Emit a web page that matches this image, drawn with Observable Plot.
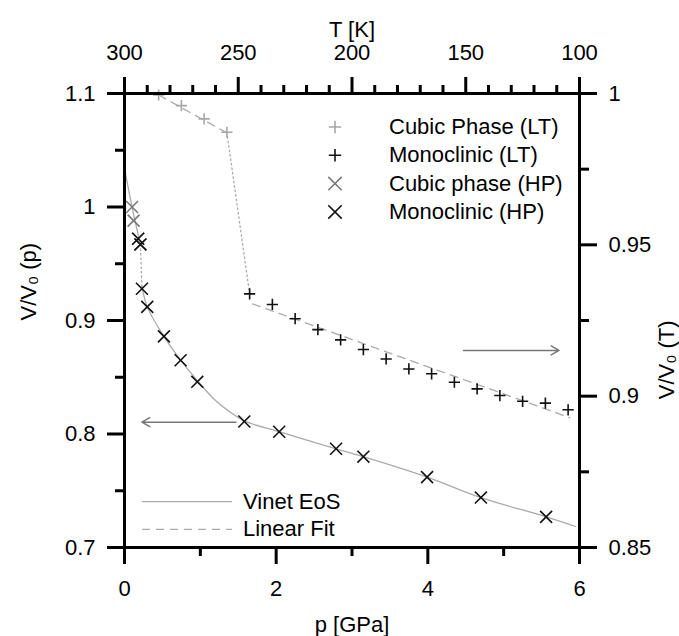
<!DOCTYPE html>
<html><head><meta charset="utf-8">
<script src="https://cdn.jsdelivr.net/npm/d3@7"></script>
<script src="https://cdn.jsdelivr.net/npm/@observablehq/plot@0.6"></script>
<style>
html,body{margin:0;padding:0;background:#fff;}
#chart{width:679px;height:636px;}
</style></head><body><div id="chart"></div>
<script>
// ---------- data ----------
// Low-temperature series (top axis T [K], right axis V/V0 (T))
const cubicLT_T = [285, 275, 265, 255];
const cubicLT_V = [0.9995, 0.9960, 0.9916, 0.9872];
const monoLT_T = [245, 235, 225, 215, 205, 195, 185, 175, 165, 155, 145, 135, 125, 115, 105];
const monoLT_V = [0.9338, 0.9303, 0.9256, 0.9220, 0.9186, 0.9154, 0.9123, 0.9090, 0.9074, 0.9046, 0.9024, 0.9002, 0.8983, 0.8977, 0.8955];
const fitCubicLT_T = [285, 255];
const fitCubicLT_V = [0.9995, 0.9870];
const fitMonoLT_T = [243.7, 104.3];
const fitMonoLT_V = [0.9305, 0.8929];
const transLT_T = [255, 245];
const transLT_V = [0.9872, 0.9338];
const arrowLT_T = [151, 109];
const arrowLT_V = [0.9151, 0.9151];

// High-pressure series (bottom axis p [GPa], left axis V/V0 (p))
const cubicHP_p = [0.10, 0.12, 0.18, 0.21];
const cubicHP_v = [1.000, 0.988, 0.972, 0.967];
const monoHP_p = [0.18, 0.21, 0.23, 0.30, 0.52, 0.74, 0.96, 1.58, 2.04, 2.79, 3.15, 3.99, 4.70, 5.56];
const monoHP_v = [0.972, 0.967, 0.928, 0.912, 0.886, 0.865, 0.846, 0.811, 0.802, 0.787, 0.780, 0.762, 0.744, 0.727];
const vinetCubic_p = [0, 0.10, 0.21];
const vinetCubic_v = [1.034, 1.000, 0.967];
const vinetMono_p = [0.23, 0.30, 0.52, 0.74, 0.96, 1.20, 1.40, 1.58, 2.04, 2.79, 3.15, 3.99, 4.70, 5.56, 5.95];
const vinetMono_v = [0.930, 0.912, 0.886, 0.865, 0.847, 0.8295, 0.8190, 0.8115, 0.802, 0.787, 0.780, 0.762, 0.744, 0.727, 0.7185];
const transHP_p = [0.21, 0.23];
const transHP_v = [0.967, 0.928];
const arrowHP_p = [1.47, 0.23];
const arrowHP_v = [0.8104, 0.8104];

// ticks
const bottomTicks = [0, 2, 4, 6];
const bottomTickLabels = ["0", "2", "4", "6"];
const bottomMinor = [1, 3, 5];
const leftTicks = [0.7, 0.8, 0.9, 1.0, 1.1];
const leftTickLabels = ["0.7", "0.8", "0.9", "1", "1.1"];
const leftMinor = [0.75, 0.85, 0.95, 1.05];
const topTicks = [300, 250, 200, 150, 100];
const topTickLabels = ["300", "250", "200", "150", "100"];
const topMinor = [290, 280, 270, 260, 240, 230, 220, 210, 190, 180, 170, 160, 140, 130, 120, 110];
const rightTicks = [0.85, 0.90, 0.95, 1.00];
const rightTickLabels = ["0.85", "0.9", "0.95", "1"];
const rightMinor = [0.875, 0.925, 0.975];

// text
const xTitle = "p [GPa]";
const topTitle = "T [K]";
const leftTitle = "V/V\u2080 (p)";
const rightTitle = "V/V\u2080 (T)";
const legendTop = [
  {label: "Cubic Phase (LT)", sym: "plus", color: "#a8a8a8"},
  {label: "Monoclinic (LT)", sym: "plus", color: "#111"},
  {label: "Cubic phase (HP)", sym: "times", color: "#7a7a7a"},
  {label: "Monoclinic (HP)", sym: "times", color: "#111"}
];
const legendBottom = [
  {label: "Vinet EoS", dash: null},
  {label: "Linear Fit", dash: "8,6"}
];

// ---------- secondary axes mapped onto the primary scales ----------
const T0 = 300, T1 = 100, VT0 = 0.85, VT1 = 1.0, P0 = 0, P1 = 6, V0 = 0.7, V1 = 1.1;
const pOfT = T => P0 + (T0 - T) * (P1 - P0) / (T0 - T1);
const vOfVT = vt => V0 + (vt - VT0) * (V1 - V0) / (VT1 - VT0);

const zipLT = (Ts, Vs) => Ts.map((T, i) => ({x: pOfT(T), y: vOfVT(Vs[i])}));
const zipHP = (ps, vs) => ps.map((p, i) => ({x: p, y: vs[i]}));

const cubicLT = zipLT(cubicLT_T, cubicLT_V);
const monoLT = zipLT(monoLT_T, monoLT_V);
const fitCubicLT = zipLT(fitCubicLT_T, fitCubicLT_V);
const fitMonoLT = zipLT(fitMonoLT_T, fitMonoLT_V);
const transLT = zipLT(transLT_T, transLT_V);
const arrowLT = [{x1: pOfT(arrowLT_T[0]), y1: vOfVT(arrowLT_V[0]), x2: pOfT(arrowLT_T[1]), y2: vOfVT(arrowLT_V[1])}];
const cubicHP = zipHP(cubicHP_p, cubicHP_v);
const monoHP = zipHP(monoHP_p, monoHP_v);
const vinetCubic = zipHP(vinetCubic_p, vinetCubic_v);
const vinetMono = zipHP(vinetMono_p, vinetMono_v);
const transHP = zipHP(transHP_p, transHP_v);
const arrowHP = [{x1: arrowHP_p[0], y1: arrowHP_v[0], x2: arrowHP_p[1], y2: arrowHP_v[1]}];

const labelFor = (vals, labels) => d => { const i = vals.findIndex(v => Math.abs(v - d) < 1e-9); return i >= 0 ? labels[i] : ""; };
const topPos = topTicks.map(pOfT), topMinorPos = topMinor.map(pOfT);
const rightPos = rightTicks.map(vOfVT), rightMinorPos = rightMinor.map(vOfVT);

const FONT = "'Liberation Sans', Arial, Helvetica, sans-serif";
const FS = 22;
const MAJ = 17, MIN = 9, AW = 3;
const R_PLUS = 3.7, R_TIMES = 5.5;

function legendMark(index, scales, values, dims) {
  const g = d3.create("svg:g").attr("font-family", FONT).attr("font-size", FS)
    .attr("fill", "#000").attr("text-anchor", "start");
  const L = dims.marginLeft, Tp = dims.marginTop, B = dims.height - dims.marginBottom;
  legendTop.forEach((it, i) => {
    const y = Tp + 34 + i * 28.3;
    const size = it.sym === "plus" ? 52 : 119;
    g.append("path")
      .attr("transform", `translate(${L + 211},${y})`)
      .attr("d", d3.symbol(it.sym === "plus" ? d3.symbolPlus : d3.symbolTimes, size)())
      .attr("fill", "none").attr("stroke", it.color).attr("stroke-width", 1.6);
    g.append("text").attr("x", L + 265).attr("y", y).attr("dy", "0.32em").attr("text-anchor", "start").text(it.label);
  });
  legendBottom.forEach((it, i) => {
    const y = B - 45.3 + i * 27.6;
    const ln = g.append("line").attr("x1", L + 18).attr("x2", L + 108).attr("y1", y).attr("y2", y)
      .attr("stroke", "#aaa").attr("stroke-width", 1.3);
    if (it.dash) ln.attr("stroke-dasharray", it.dash);
    g.append("text").attr("x", L + 119).attr("y", y).attr("dy", "0.32em").attr("text-anchor", "start").text(it.label);
  });
  return g.node();
}

const plot = Plot.plot({
  width: 679, height: 636,
  marginLeft: 124, marginRight: 100, marginTop: 93, marginBottom: 89,
  x: {domain: [P0, P1], label: null},
  y: {domain: [V0, V1], label: null},
  style: {fontFamily: FONT, background: "#fff", color: "#000", overflow: "visible"},
  marks: [
    // curves
    Plot.line(vinetCubic, {x: "x", y: "y", stroke: "#aaa", strokeWidth: 1.3, curve: "catmull-rom"}),
    Plot.line(vinetMono, {x: "x", y: "y", stroke: "#aaa", strokeWidth: 1.3, curve: "catmull-rom"}),
    Plot.line(transHP, {x: "x", y: "y", stroke: "#aaa", strokeWidth: 1.3, strokeDasharray: "1.5,3"}),
    Plot.line(transLT, {x: "x", y: "y", stroke: "#aaa", strokeWidth: 1.3, strokeDasharray: "1.5,3"}),
    Plot.line(fitCubicLT, {x: "x", y: "y", stroke: "#aaa", strokeWidth: 1.3, strokeDasharray: "8,6"}),
    Plot.line(fitMonoLT, {x: "x", y: "y", stroke: "#aaa", strokeWidth: 1.3, strokeDasharray: "8,6"}),
    // arrows
    Plot.arrow(arrowHP, {x1: "x1", y1: "y1", x2: "x2", y2: "y2", stroke: "#777", strokeWidth: 1.5, headLength: 9}),
    Plot.arrow(arrowLT, {x1: "x1", y1: "y1", x2: "x2", y2: "y2", stroke: "#777", strokeWidth: 1.5, headLength: 9}),
    // points
    Plot.dot(cubicHP, {x: "x", y: "y", symbol: "times", r: R_TIMES, stroke: "#7a7a7a", strokeWidth: 1.6}),
    Plot.dot(monoHP, {x: "x", y: "y", symbol: "times", r: R_TIMES, stroke: "#111", strokeWidth: 1.6}),
    Plot.dot(cubicLT, {x: "x", y: "y", symbol: "plus", r: R_PLUS, stroke: "#a8a8a8", strokeWidth: 1.6}),
    Plot.dot(monoLT, {x: "x", y: "y", symbol: "plus", r: R_PLUS, stroke: "#111", strokeWidth: 1.6}),
    // axes
    Plot.axisX(bottomTicks, {anchor: "bottom", tickSize: MAJ, tickPadding: 16, strokeWidth: AW, fontSize: FS, tickFormat: labelFor(bottomTicks, bottomTickLabels), label: null}),
    Plot.axisX(bottomMinor, {anchor: "bottom", tickSize: MIN, strokeWidth: AW, tickFormat: () => "", label: null}),
    Plot.axisX(topPos, {anchor: "top", tickSize: MAJ, tickPadding: 17, strokeWidth: AW, fontSize: FS, tickFormat: labelFor(topPos, topTickLabels), label: null}),
    Plot.axisX(topMinorPos, {anchor: "top", tickSize: MIN, strokeWidth: AW, tickFormat: () => "", label: null}),
    Plot.axisY(leftTicks, {anchor: "left", tickSize: MAJ, tickPadding: 12, strokeWidth: AW, fontSize: FS, tickFormat: labelFor(leftTicks, leftTickLabels), label: null}),
    Plot.axisY(leftMinor, {anchor: "left", tickSize: MIN, strokeWidth: AW, tickFormat: () => "", label: null}),
    Plot.axisY(rightPos, {anchor: "right", tickSize: MAJ, tickPadding: 12, strokeWidth: AW, fontSize: FS, tickFormat: labelFor(rightPos, rightTickLabels), label: null}),
    Plot.axisY(rightMinorPos, {anchor: "right", tickSize: MIN, strokeWidth: AW, tickFormat: () => "", label: null}),
    Plot.frame({stroke: "#000", strokeWidth: AW}),
    // axis titles
    Plot.text([xTitle], {text: d => d, frameAnchor: "bottom", dy: 84, lineAnchor: "bottom", fontSize: FS, fill: "#000"}),
    Plot.text([topTitle], {text: d => d, frameAnchor: "top", dy: -57, lineAnchor: "bottom", fontSize: FS, fill: "#000"}),
    Plot.text([leftTitle], {text: d => d, frameAnchor: "left", dx: -89, rotate: -90, lineAnchor: "bottom", fontSize: FS, fill: "#000"}),
    Plot.text([rightTitle], {text: d => d, frameAnchor: "right", dx: 94, rotate: -90, lineAnchor: "bottom", fontSize: FS, fill: "#000"}),
    legendMark
  ]
});
document.getElementById("chart").appendChild(plot);
</script></body></html>
